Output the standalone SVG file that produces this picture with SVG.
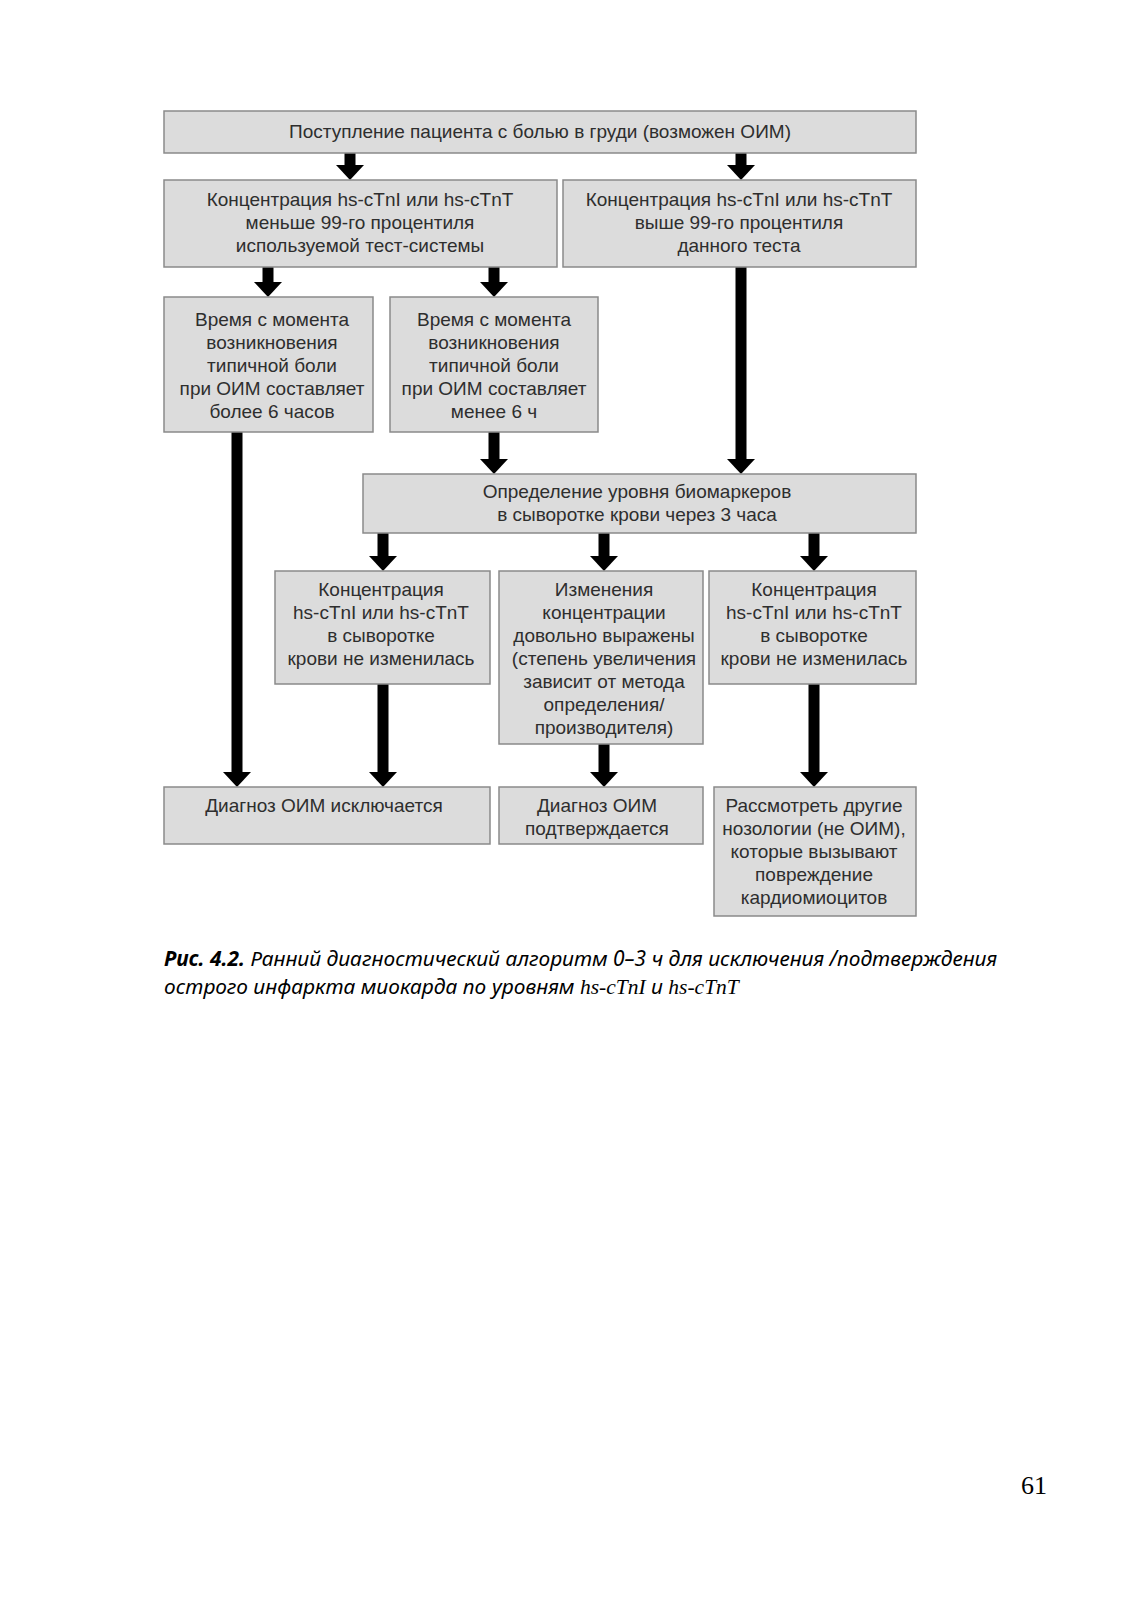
<svg xmlns="http://www.w3.org/2000/svg" width="1132" height="1600" viewBox="0 0 1132 1600">
<defs>
<style>
.box{fill:#dcdcdc;stroke:#8a8a8a;stroke-width:1.5}
.t{font-family:"Liberation Sans",Arial,sans-serif;font-size:19px;fill:#2e2e2e;text-anchor:middle}
.shaft{stroke:#000;stroke-width:11;fill:none}
.cap{font-family:"Noto Sans","Open Sans",sans-serif;font-size:20.9px;font-style:italic;fill:#000}
.capm{font-family:"Liberation Serif",serif;font-style:italic;font-size:21.5px}
</style>
<marker id="ah" markerUnits="userSpaceOnUse" markerWidth="15" markerHeight="28" refX="4" refY="14" orient="auto">
<path d="M0,0 L15,14 L0,28 Z" fill="#000"/>
</marker>
</defs>
<rect width="1132" height="1600" fill="#fff"/>

<g id="connectors">
<line class="shaft" x1="350" y1="153" x2="350" y2="169" marker-end="url(#ah)"/>
<line class="shaft" x1="741" y1="153" x2="741" y2="169" marker-end="url(#ah)"/>
<line class="shaft" x1="268" y1="267" x2="268" y2="286" marker-end="url(#ah)"/>
<line class="shaft" x1="494" y1="267" x2="494" y2="286" marker-end="url(#ah)"/>
<line class="shaft" x1="741" y1="267" x2="741" y2="463" marker-end="url(#ah)"/>
<line class="shaft" x1="494" y1="432" x2="494" y2="463" marker-end="url(#ah)"/>
<line class="shaft" x1="237" y1="432" x2="237" y2="776" marker-end="url(#ah)"/>
<line class="shaft" x1="383" y1="533" x2="383" y2="560" marker-end="url(#ah)"/>
<line class="shaft" x1="604" y1="533" x2="604" y2="560" marker-end="url(#ah)"/>
<line class="shaft" x1="814" y1="533" x2="814" y2="560" marker-end="url(#ah)"/>
<line class="shaft" x1="383" y1="684" x2="383" y2="776" marker-end="url(#ah)"/>
<line class="shaft" x1="604" y1="744" x2="604" y2="776" marker-end="url(#ah)"/>
<line class="shaft" x1="814" y1="684" x2="814" y2="776" marker-end="url(#ah)"/>
</g>

<g id="n_start">
<rect class="box" x="164" y="111" width="752" height="42"/>
<text class="t" x="540" y="138">Поступление пациента с болью в груди (возможен ОИМ)</text>
</g>

<g id="n_low">
<rect class="box" x="164" y="180" width="393" height="87"/>
<text class="t" x="360" y="206">Концентрация hs-cTnI или hs-cTnT</text>
<text class="t" x="360" y="229">меньше 99-го процентиля</text>
<text class="t" x="360" y="252">используемой тест-системы</text>
</g>

<g id="n_high">
<rect class="box" x="563" y="180" width="353" height="87"/>
<text class="t" x="739" y="206">Концентрация hs-cTnI или hs-cTnT</text>
<text class="t" x="739" y="229">выше 99-го процентиля</text>
<text class="t" x="739" y="252">данного теста</text>
</g>

<g id="n_more6">
<rect class="box" x="164" y="297" width="209" height="135"/>
<text class="t" x="272" y="326">Время с момента</text>
<text class="t" x="272" y="349">возникновения</text>
<text class="t" x="272" y="372">типичной боли</text>
<text class="t" x="272" y="395">при ОИМ составляет</text>
<text class="t" x="272" y="418">более 6 часов</text>
</g>

<g id="n_less6">
<rect class="box" x="390" y="297" width="208" height="135"/>
<text class="t" x="494" y="326">Время с момента</text>
<text class="t" x="494" y="349">возникновения</text>
<text class="t" x="494" y="372">типичной боли</text>
<text class="t" x="494" y="395">при ОИМ составляет</text>
<text class="t" x="494" y="418">менее 6 ч</text>
</g>

<g id="n_biomarkers">
<rect class="box" x="363" y="474" width="553" height="59"/>
<text class="t" x="637" y="498">Определение уровня биомаркеров</text>
<text class="t" x="637" y="521">в сыворотке крови через 3 часа</text>
</g>

<g id="n_nochange1">
<rect class="box" x="275" y="571" width="215" height="113"/>
<text class="t" x="381" y="596">Концентрация</text>
<text class="t" x="381" y="619">hs-cTnI или hs-cTnT</text>
<text class="t" x="381" y="642">в сыворотке</text>
<text class="t" x="381" y="665">крови не изменилась</text>
</g>

<g id="n_change">
<rect class="box" x="499" y="571" width="204" height="173"/>
<text class="t" x="604" y="596">Изменения</text>
<text class="t" x="604" y="619">концентрации</text>
<text class="t" x="604" y="642">довольно выражены</text>
<text class="t" x="604" y="665">(степень увеличения</text>
<text class="t" x="604" y="688">зависит от метода</text>
<text class="t" x="604" y="711">определения/</text>
<text class="t" x="604" y="734">производителя)</text>
</g>

<g id="n_nochange2">
<rect class="box" x="709" y="571" width="207" height="113"/>
<text class="t" x="814" y="596">Концентрация</text>
<text class="t" x="814" y="619">hs-cTnI или hs-cTnT</text>
<text class="t" x="814" y="642">в сыворотке</text>
<text class="t" x="814" y="665">крови не изменилась</text>
</g>

<g id="n_excluded">
<rect class="box" x="164" y="787" width="326" height="57"/>
<text class="t" x="324" y="812">Диагноз ОИМ исключается</text>
</g>

<g id="n_confirmed">
<rect class="box" x="499" y="787" width="204" height="57"/>
<text class="t" x="597" y="812">Диагноз ОИМ</text>
<text class="t" x="597" y="835">подтверждается</text>
</g>

<g id="n_other">
<rect class="box" x="714" y="787" width="202" height="129"/>
<text class="t" x="814" y="812">Рассмотреть другие</text>
<text class="t" x="814" y="835">нозологии (не ОИМ),</text>
<text class="t" x="814" y="858">которые вызывают</text>
<text class="t" x="814" y="881">повреждение</text>
<text class="t" x="814" y="904">кардиомиоцитов</text>
</g>

<text class="cap" x="164" y="966"><tspan font-weight="bold">Рис. 4.2.</tspan> Ранний диагностический алгоритм 0–3 ч для исключения /подтверждения</text>
<text class="cap" x="164" y="994">острого инфаркта миокарда по уровням <tspan class="capm">hs-cTnI</tspan> и <tspan class="capm">hs-cTnT</tspan></text>

<text x="1034" y="1494" font-family="Liberation Serif,serif" font-size="26" text-anchor="middle" fill="#000">61</text>
</svg>
